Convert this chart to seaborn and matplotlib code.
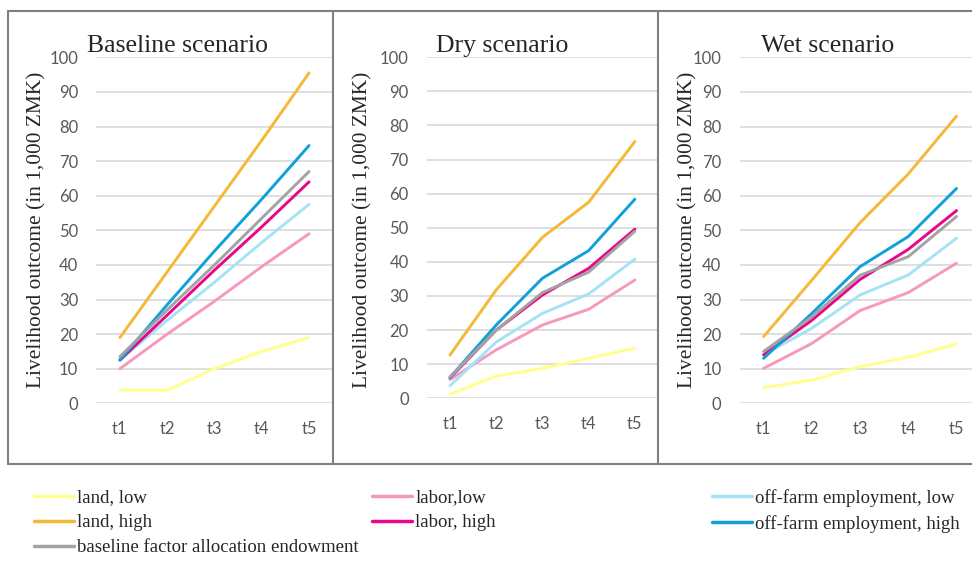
import pandas as pd
import matplotlib
matplotlib.use("Agg")
from matplotlib import pyplot as plt
from matplotlib.lines import Line2D
import seaborn as sns

# time steps and series (Excel draw order)
periods = ["t1", "t2", "t3", "t4", "t5"]
series = ["land, low", "labor,low", "off-farm employment, low",
          "land, high", "labor, high", "off-farm employment, high",
          "baseline factor allocation endowment"]
colors = ["#FFFF8C", "#F59ABD", "#A6E2F6", "#F4B935", "#E8078A", "#0FA1DA", "#A3A3A3"]

scenario_titles = ["Baseline scenario", "Dry scenario", "Wet scenario"]

# values (1,000 ZMK)
base_land_low = [3.8, 3.8, 10, 15, 19]
base_labor_low = [10, 20, 29.5, 39.5, 49]
base_off_low = [12.5, 24, 35, 46.5, 57.5]
base_land_high = [19, 38, 57, 76, 95.5]
base_labor_high = [12.5, 25.5, 38.5, 51, 64]
base_off_high = [12.5, 28.5, 44, 59, 74.5]
base_baseline = [13.5, 27, 40, 53.5, 67]

dry_land_low = [1.2, 6.5, 8.8, 11.7, 14.7]
dry_labor_low = [5.5, 14.2, 21.5, 26.1, 34.7]
dry_off_low = [3.7, 16.5, 24.9, 30.6, 40.8]
dry_land_high = [12.7, 31.8, 47.2, 57.5, 75.3]
dry_labor_high = [6, 20, 30.3, 38.1, 49.6]
dry_off_high = [6.1, 21.5, 35.2, 43.3, 58.4]
dry_baseline = [6.3, 20, 31, 37, 49]

wet_land_low = [4.5, 6.7, 10.6, 13.3, 17.1]
wet_labor_low = [10.1, 17.3, 26.8, 32, 40.5]
wet_off_low = [14, 21.7, 31.3, 37.1, 47.7]
wet_land_high = [19.3, 35.6, 52.2, 66.3, 83]
wet_labor_high = [14, 24, 35.8, 44.5, 55.7]
wet_off_high = [13, 26, 39.5, 48.2, 62.1]
wet_baseline = [15, 25, 37, 42.4, 54]

scenario_data = [
    [base_land_low, base_labor_low, base_off_low, base_land_high, base_labor_high, base_off_high, base_baseline],
    [dry_land_low, dry_labor_low, dry_off_low, dry_land_high, dry_labor_high, dry_off_high, dry_baseline],
    [wet_land_low, wet_labor_low, wet_off_low, wet_land_high, wet_labor_high, wet_off_high, wet_baseline],
]

rows = []
for title, block in zip(scenario_titles, scenario_data):
    for name, vals in zip(series, block):
        for p, v in zip(periods, vals):
            rows.append((title, name, p, v))
df = pd.DataFrame(rows, columns=["scenario", "series", "period", "value"])

sns.set_style("white")
plt.rcParams["font.family"] = ["Liberation Serif", "DejaVu Serif"]
palette = dict(zip(series, colors))

W, H = 972, 564
fig = plt.figure(figsize=(W / 100, H / 100), dpi=100)

def fx(px):
    return px / W

def fy(py):
    return 1 - py / H

# axes boxes in pixels: left, right, top(100), bottom(0), xmax
boxes = [(96.3, 332.7, 57.3, 403.3, 4.5),
         (426.9, 658, 57.3, 398.3, 4.5),
         (739.5, 972, 57.3, 403.3, 4.32)]
title_x = [87, 436, 761]
ylab_x = [37, 363, 688]

for i, (title, (l, r, t, b, xmax)) in enumerate(zip(scenario_titles, boxes)):
    ax = fig.add_axes([fx(l), fy(b), (r - l) / W, (b - t) / H])
    sub = df[df["scenario"] == title]
    sns.lineplot(data=sub, x="period", y="value", hue="series", hue_order=series,
                 palette=palette, sort=False, legend=False, linewidth=2.1, ax=ax)
    ax.set_xlim(-0.5, xmax)
    ax.set_ylim(0, 100)
    ax.set_yticks(range(0, 101, 10))
    ax.grid(axis="y", color="#D9D9D9", linewidth=1.2)
    ax.set_axisbelow(True)
    for s in ax.spines.values():
        s.set_visible(False)
    ax.tick_params(length=0, labelsize=12, labelcolor="#595959", pad=13)
    for lab in ax.get_xticklabels() + ax.get_yticklabels():
        lab.set_fontfamily("Lato")
    ax.set_xlabel("")
    ax.set_ylabel("")
    fig.text(fx(title_x[i]), fy(46), title, fontsize=18.5, ha="left", va="center")
    fig.text(fx(ylab_x[i]), fy(230), "Livelihood outcome (in 1,000 ZMK)", fontsize=15.4,
             rotation=90, ha="center", va="center")

# panel frames
frame_kw = dict(color="#7F7F7F", linewidth=1.5, transform=fig.transFigure)
fig.add_artist(Line2D([fx(8), 1], [fy(11), fy(11)], **frame_kw))
fig.add_artist(Line2D([fx(8), 1], [fy(464), fy(464)], **frame_kw))
for xv in [8, 333, 658]:
    fig.add_artist(Line2D([fx(xv), fx(xv)], [fy(11), fy(464)], **frame_kw))

# legend in three manual columns
handles = {n: Line2D([0], [0], color=c, linewidth=2.5) for n, c in zip(series, colors)}
legend_cols = [
    (34, ["land, low", "land, high", "baseline factor allocation endowment"]),
    (372, ["labor,low", "labor, high"]),
    (712, ["off-farm employment, low", "off-farm employment, high"]),
]
for xpos, names in legend_cols:
    leg = fig.legend([handles[n] for n in names], names, loc="upper left",
                     bbox_to_anchor=(fx(xpos), fy(489)), frameon=False, fontsize=13.5,
                     handlelength=2.15, handletextpad=0.15, labelspacing=0.42,
                     borderpad=0, borderaxespad=0)

fig.savefig("out.png", dpi=100)
